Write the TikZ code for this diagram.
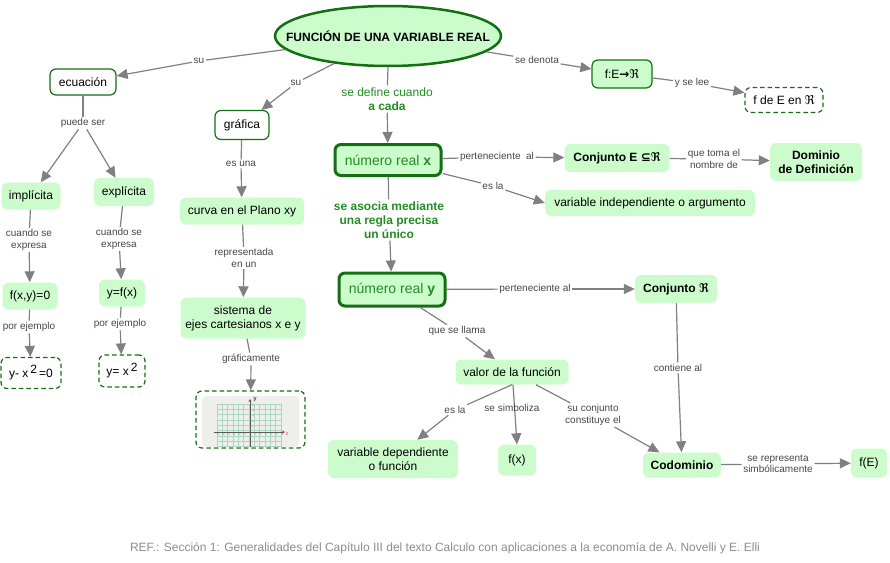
\documentclass[tikz,border=0pt]{standalone}
\usepackage{fontspec}
\setmainfont{Liberation Sans}
\newfontfamily\dv{DejaVu Sans}
\usetikzlibrary{shapes.geometric,arrows.meta,calc}
\definecolor{cfill}{RGB}{204,252,204}
\definecolor{cdark}{RGB}{20,110,20}
\definecolor{cline}{RGB}{128,128,128}
\definecolor{ctext}{RGB}{70,70,70}
\definecolor{cgreen}{RGB}{35,140,35}
\definecolor{cref}{RGB}{140,140,140}
\definecolor{cgrid}{RGB}{170,215,195}
\definecolor{cpanel}{RGB}{238,238,235}
\tikzset{
  concept/.style={rounded corners=6pt, fill=cfill, inner sep=2pt, align=center,
    font=\fontsize{12}{14}\selectfont},
  bord/.style={concept, draw=cdark, line width=1.2pt},
  wbord/.style={bord, fill=white},
  dashbox/.style={concept, fill=white, draw=cdark, line width=1.2pt, dash pattern=on 4.5pt off 3pt},
  thickbox/.style={concept, draw=cdark, line width=3pt, text=cgreen, font=\fontsize{14}{16}\selectfont},
  lnk/.style={font=\fontsize{10}{11.5}\selectfont, text=ctext, inner sep=1.5pt, align=center},
  glnk/.style={font=\fontsize{12}{14}\selectfont, text=cgreen, inner sep=2pt, align=center},
  con/.style={draw=cline, line width=1.2pt},
  arr/.style={con, -{Triangle[length=11pt,width=10pt]}},
}
\begin{document}
\begin{tikzpicture}[x=1pt,y=-1pt]
\useasboundingbox (0,0) rectangle (890,562);

% concepts
\node[ellipse, draw=cdark, line width=2.5pt, fill=cfill, minimum width=226, minimum height=60,
      inner sep=0] (main) at (388,36) {};
\node[font=\bfseries\fontsize{12}{14}\selectfont, inner sep=0] (maintext) at (main.center) {FUNCIÓN DE UNA VARIABLE REAL};
\node[wbord, minimum width=66, minimum height=26] (ecu) at (83,82) {ecuación};
\node[wbord, minimum width=54, minimum height=29] (gra) at (242,125) {gráfica};
\node[thickbox, minimum width=106, minimum height=31] (numx) at (388,160) {número real \textbf{x}};
\node[bord, minimum width=60, minimum height=28] (fE) at (622,74) {f:E{\dv\bfseries →}{\dv ℜ}};
\node[dashbox, minimum width=78, minimum height=25] (fdeE) at (784,100) {f de E en {\dv ℜ}};
\node[concept, minimum width=105, minimum height=28, font=\bfseries\fontsize{12}{14}\selectfont] (conjE) at (617,158) {Conjunto E {\dv ⊆ℜ}};
\node[concept, minimum width=92, minimum height=38, font=\bfseries\fontsize{12}{14}\selectfont] (dom) at (816,162) {Dominio\\de Definición};
\node[concept, minimum width=210, minimum height=26] (varind) at (650,203) {variable independiente o argumento};
\node[concept, minimum width=59, minimum height=27] (impl) at (31,196) {implícita};
\node[concept, minimum width=60, minimum height=28] (expl) at (124,192) {explícita};
\node[concept, minimum width=124, minimum height=27] (curva) at (242,211) {curva en el Plano xy};
\node[concept, minimum width=55, minimum height=27] (fxy) at (30,296) {f(x,y)=0};
\node[concept, minimum width=46, minimum height=27] (yfx) at (122,293) {y=f(x)};
\node[concept, minimum width=125, minimum height=41] (sis) at (243,318) {sistema de\\ejes cartesianos x e y};
\node[dashbox, minimum width=60, minimum height=31] (ex1) at (31,373) {y- x\,\raisebox{4pt}{2}\,=0};
\node[dashbox, minimum width=46, minimum height=32] (ex2) at (122,371) {y= x\,\raisebox{4pt}{2}};
\node[dashbox, minimum width=109, minimum height=57] (graph) at (250.5,419.5) {};
\node[thickbox, minimum width=106, minimum height=33] (numy) at (392,289.5) {número real \textbf{y}};
\node[concept, minimum width=82, minimum height=28, font=\bfseries\fontsize{12}{14}\selectfont] (conjR) at (676,289) {Conjunto {\dv\bfseries ℜ}};
\node[concept, minimum width=113, minimum height=25] (valor) at (512,372) {valor de la función};
\node[concept, minimum width=130, minimum height=38] (vardep) at (393,459) {variable dependiente\\o función};
\node[concept, minimum width=38, minimum height=31] (fx) at (517,460) {f(x)};
\node[concept, minimum width=78, minimum height=25, font=\bfseries\fontsize{12}{14}\selectfont] (codom) at (682,465) {Codominio};
\node[concept, minimum width=36, minimum height=29] (fE2) at (869,463) {f(E)};

% graph picture inside the dashed box
\fill[cpanel, rounded corners=4pt] (202,396) rectangle (299,447);
\foreach \i in {0,...,12} \draw[cgrid, line width=0.5pt] ({217+\i*5.33},404) -- ({217+\i*5.33},447);
\foreach \j in {0,...,8} \draw[cgrid, line width=0.5pt] (217,{404+\j*5.33}) -- (281,{404+\j*5.33});
\draw[-{Stealth[length=3pt,width=3pt]}, black!65, line width=0.8pt] (214,432) -- (285,432);
\draw[-{Stealth[length=3pt,width=3pt]}, black!65, line width=0.8pt] (250,447) -- (250,399);
\foreach \k in {-6,...,-1,1,2,...,6} \node[font=\fontsize{2.5}{3}\selectfont, text=black!55, inner sep=0] at ({250+\k*5.33},435) {\k};
\foreach \k in {1,...,5} \node[font=\fontsize{2.5}{3}\selectfont, text=black!55, inner sep=0] at (253,{432-\k*5.33}) {\k};
\node[font=\bfseries\fontsize{6}{6}\selectfont, text=black!70, inner sep=0] (ylab) at (255,400) {y};
\node[font=\fontsize{6}{6}\selectfont, text=red!70, inner sep=0] (xlab) at (287,434) {x};

% linking phrases
\node[lnk] (l1) at (199,61) {su};
\node[lnk] (l2) at (296,83) {su};
\node[glnk] (l3) at (387,99) {se define cuando\\\textbf{a cada}};
\node[lnk] (l4) at (537,60) {se denota};
\node[lnk] (l5) at (692,83) {y se lee};
\node[lnk] (l6) at (83,123) {puede ser};
\node[lnk] (l7) at (241,164) {es una};
\node[lnk] (l8) at (497,157) {perteneciente\ \ al};
\node[lnk] (l9) at (493,186) {es la};
\node[lnk] (l10) at (714,159) {que toma el\\nombre de};
\node[glnk, font=\bfseries\fontsize{12}{14}\selectfont] (l11) at (389,220) {se asocia mediante\\una regla precisa\\un único};
\node[lnk] (l12) at (29,240) {cuando se\\expresa};
\node[lnk] (l13) at (119,239) {cuando se\\expresa};
\node[lnk] (l14) at (244,258) {representada\\en un};
\node[lnk] (l15) at (29,327) {por ejemplo};
\node[lnk] (l16) at (120,324) {por ejemplo};
\node[lnk] (l17) at (251,359) {gráficamente};
\node[lnk] (l18) at (535,289) {perteneciente al};
\node[lnk] (l19) at (457,331) {que se llama};
\node[lnk] (l20) at (678,368) {contiene al};
\node[lnk] (l21) at (455,410) {es la};
\node[lnk] (l23) at (593,415) {su conjunto\\constituye el};
\node[lnk] (l24) at (778,464) {se representa\\simbólicamente};

% connectors
\draw[con] (main) -- (l1); \draw[arr] (l1) -- (ecu);
\draw[con] (main) -- (l2); \draw[arr] (l2) -- (gra);
\draw[con] (main.south) -- (l3); \draw[arr] (l3) -- (numx);
\draw[con] (main) -- (l4); \draw[arr] (l4) -- (fE);
\draw[con] (fE) -- (l5); \draw[arr] (l5) -- (fdeE);
\draw[con] (ecu) -- (l6); \draw[arr] (l6) -- (impl); \draw[arr] (l6) -- (expl);
\draw[con] (gra) -- (l7); \draw[arr] (l7) -- (curva);
\draw[con] (numx) -- (l8); \draw[arr] (l8) -- (conjE);
\draw[con] (numx) -- (l9); \draw[arr] (l9) -- (varind.west);
\draw[con] (conjE) -- (l10); \draw[arr] (l10) -- (dom);
\draw[con] (numx) -- (l11); \draw[arr] (l11) -- (numy);
\draw[con] (impl) -- (l12); \draw[arr] (l12) -- (fxy);
\draw[con] (expl) -- (l13); \draw[arr] (l13) -- (yfx);
\draw[con] (curva) -- (l14); \draw[arr] (l14) -- (sis);
\draw[con] (fxy) -- (l15); \draw[arr] (l15) -- (ex1);
\draw[con] (yfx) -- (l16); \draw[arr] (l16) -- (ex2);
\draw[con] (sis) -- (l17); \draw[arr] (l17) -- (graph);
\draw[con] (numy) -- (l18); \draw[arr] (l18) -- (conjR);
\draw[con] (numy) -- (l19); \draw[arr] (l19) -- (valor);
\draw[con] (conjR) -- (l20); \draw[arr] (l20) -- (codom);
\draw[con] (valor.south) -- (l21); \draw[arr] (l21) -- (vardep);
\draw[arr] ($(valor.south)+(1,0)$) -- (fx.north);
\node[lnk] (l22) at (512,408) {se simboliza};
\draw[con] (valor) -- (l23); \draw[arr] (l23) -- (codom);
\draw[con] (codom) -- (l24); \draw[arr] (l24) -- (fE2);

% reference
\node[font=\fontsize{12}{14}\selectfont, text=cref] (ref) at (445,548) {REF.: Sección 1: Generalidades del Capítulo III del texto Calculo con aplicaciones a la economía de A. Novelli y E. Elli};
\end{tikzpicture}
\end{document}
